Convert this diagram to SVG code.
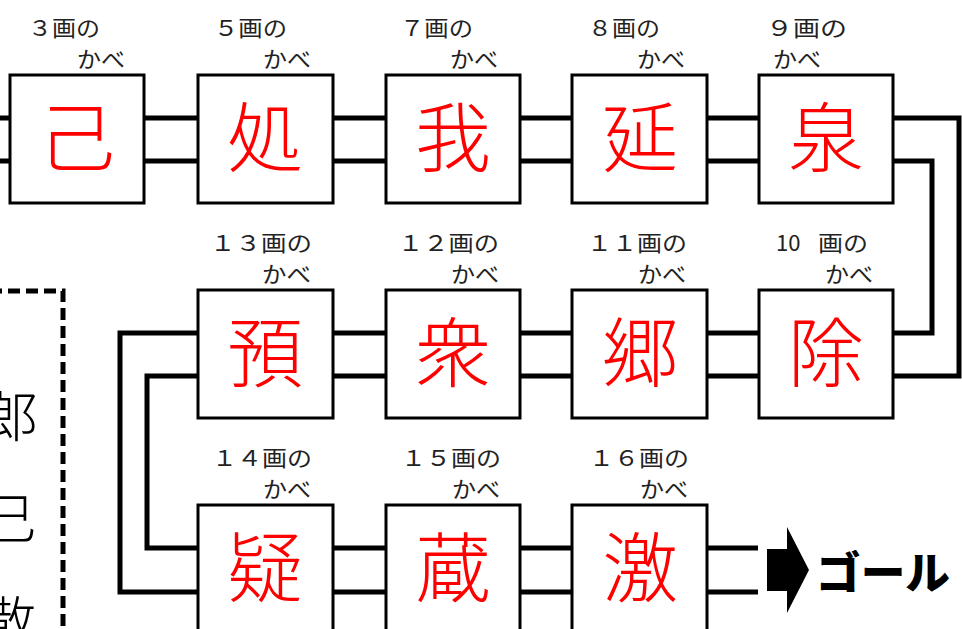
<svg xmlns="http://www.w3.org/2000/svg" width="962" height="629" viewBox="0 0 962 629">
<style>
.box{fill:#fff;stroke:#000;stroke-width:3}
.kj{font-family:"Noto Sans CJK JP",sans-serif;font-weight:300;font-size:76px;fill:#ff0000;text-anchor:middle}
.lb{font-family:"Noto Sans CJK JP",sans-serif;font-weight:400;font-size:22px;fill:#222}
.wire{fill:none;stroke:#000;stroke-width:5}
.side{font-family:"Noto Sans CJK JP",sans-serif;font-weight:300;font-size:54px;fill:#000;text-anchor:middle}
.goal{font-family:"Noto Sans CJK JP",sans-serif;font-weight:900;font-size:44px;fill:#000}
</style>
<rect width="962" height="629" fill="#fff"/>

<g id="hint-box">
<path d="M-10 291 H63 V640" fill="none" stroke="#000" stroke-width="5" stroke-dasharray="12 6"/>
<text class="side" x="11" y="437">郎</text>
<text class="side" x="9" y="539">己</text>
<text class="side" x="9" y="642">散</text>
</g>

<g id="connectors">
<path class="wire" d="M0 118 H10 M0 161 H10"/>
<path class="wire" d="M144 118 H198 M144 161 H198"/>
<path class="wire" d="M333 118 H386 M333 161 H386"/>
<path class="wire" d="M520 118 H572 M520 161 H572"/>
<path class="wire" d="M707 118 H759 M707 161 H759"/>
<path class="wire" d="M893 118 H959 V376 H893"/>
<path class="wire" d="M893 161 H932 V333 H893"/>
<path class="wire" d="M333 333 H386 M333 376 H386"/>
<path class="wire" d="M520 333 H572 M520 376 H572"/>
<path class="wire" d="M707 333 H759 M707 376 H759"/>
<path class="wire" d="M198 333 H120 V592 H198"/>
<path class="wire" d="M198 376 H147 V548 H198"/>
<path class="wire" d="M333 548 H386 M333 592 H386"/>
<path class="wire" d="M520 548 H572 M520 592 H572"/>
<path class="wire" d="M707 548 H758 M707 592 H758"/>
</g>

<g id="n3">
<text class="lb" x="28" y="36" textLength="72" lengthAdjust="spacingAndGlyphs">３画の</text>
<text class="lb" x="77" y="67" textLength="48" lengthAdjust="spacingAndGlyphs">かべ</text>
<rect class="box" x="10" y="75" width="134" height="128"/>
<text class="kj" x="77" y="166">己</text>
</g>
<g id="n5">
<text class="lb" x="214" y="36" textLength="73" lengthAdjust="spacingAndGlyphs">５画の</text>
<text class="lb" x="263" y="67" textLength="48" lengthAdjust="spacingAndGlyphs">かべ</text>
<rect class="box" x="198" y="75" width="135" height="128"/>
<text class="kj" x="265" y="166">処</text>
</g>
<g id="n7">
<text class="lb" x="400" y="36" textLength="73" lengthAdjust="spacingAndGlyphs">７画の</text>
<text class="lb" x="450" y="67" textLength="48" lengthAdjust="spacingAndGlyphs">かべ</text>
<rect class="box" x="386" y="75" width="134" height="128"/>
<text class="kj" x="453" y="166">我</text>
</g>
<g id="n8">
<text class="lb" x="588" y="36" textLength="72" lengthAdjust="spacingAndGlyphs">８画の</text>
<text class="lb" x="637" y="67" textLength="48" lengthAdjust="spacingAndGlyphs">かべ</text>
<rect class="box" x="572" y="75" width="135" height="128"/>
<text class="kj" x="640" y="166">延</text>
</g>
<g id="n9">
<text class="lb" x="766" y="36" textLength="81" lengthAdjust="spacingAndGlyphs">９画の</text>
<text class="lb" x="773" y="67" textLength="48" lengthAdjust="spacingAndGlyphs">かべ</text>
<rect class="box" x="759" y="75" width="134" height="128"/>
<text class="kj" x="826" y="166">泉</text>
</g>

<g id="n10">
<text class="lb" x="776" y="251"><tspan>10</tspan><tspan x="818" textLength="50" lengthAdjust="spacingAndGlyphs">画の</tspan></text>
<text class="lb" x="825" y="282" textLength="48" lengthAdjust="spacingAndGlyphs">かべ</text>
<rect class="box" x="759" y="290" width="134" height="128"/>
<text class="kj" x="826" y="381">除</text>
</g>
<g id="n11">
<text class="lb" x="587" y="251" textLength="100" lengthAdjust="spacingAndGlyphs">１１画の</text>
<text class="lb" x="638" y="282" textLength="48" lengthAdjust="spacingAndGlyphs">かべ</text>
<rect class="box" x="572" y="290" width="135" height="128"/>
<text class="kj" x="640" y="381">郷</text>
</g>
<g id="n12">
<text class="lb" x="398" y="251" textLength="101" lengthAdjust="spacingAndGlyphs">１２画の</text>
<text class="lb" x="451" y="282" textLength="48" lengthAdjust="spacingAndGlyphs">かべ</text>
<rect class="box" x="386" y="290" width="134" height="128"/>
<text class="kj" x="453" y="381">衆</text>
</g>
<g id="n13">
<text class="lb" x="210" y="251" textLength="102" lengthAdjust="spacingAndGlyphs">１３画の</text>
<text class="lb" x="262" y="282" textLength="49" lengthAdjust="spacingAndGlyphs">かべ</text>
<rect class="box" x="198" y="290" width="135" height="128"/>
<text class="kj" x="265" y="381">預</text>
</g>

<g id="n14">
<text class="lb" x="212" y="466" textLength="100" lengthAdjust="spacingAndGlyphs">１４画の</text>
<text class="lb" x="263" y="497" textLength="48" lengthAdjust="spacingAndGlyphs">かべ</text>
<rect class="box" x="198" y="505" width="135" height="130"/>
<text class="kj" x="265" y="596">疑</text>
</g>
<g id="n15">
<text class="lb" x="401" y="466" textLength="100" lengthAdjust="spacingAndGlyphs">１５画の</text>
<text class="lb" x="452" y="497" textLength="48" lengthAdjust="spacingAndGlyphs">かべ</text>
<rect class="box" x="386" y="505" width="134" height="130"/>
<text class="kj" x="453" y="596">蔵</text>
</g>
<g id="n16">
<text class="lb" x="589" y="466" textLength="100" lengthAdjust="spacingAndGlyphs">１６画の</text>
<text class="lb" x="640" y="497" textLength="48" lengthAdjust="spacingAndGlyphs">かべ</text>
<rect class="box" x="572" y="505" width="135" height="130"/>
<text class="kj" x="640" y="596">激</text>
</g>

<g id="goal">
<polygon points="767,549 787,549 787,527 809,570 787,613 787,591 767,591" fill="#000"/>
<text class="goal" x="816" y="589" textLength="134" lengthAdjust="spacingAndGlyphs">ゴール</text>
</g>
</svg>
